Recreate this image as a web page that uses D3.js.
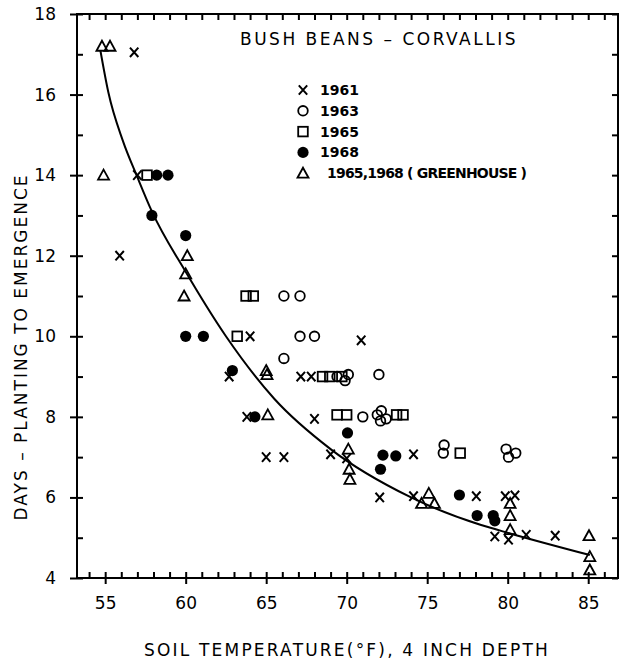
<!DOCTYPE html>
<html>
<head>
<meta charset="utf-8">
<script src="https://cdn.jsdelivr.net/npm/d3@7"></script>
<style>
  body { margin: 0; background: #fff; }
  text { font-family: "DejaVu Sans", sans-serif; fill: #000; }
</style>
</head>
<body>
<div id="graph"></div>
<script>
const xTicks = [55, 60, 65, 70, 75, 80, 85];
const yTicks = [4, 6, 8, 10, 12, 14, 16, 18];

// [soil temp F, days]
const s1961 = [[56.8,17.05],[57.0,14.0],[55.9,12.0],[64.0,10.0],[62.7,9.0],[63.8,8.0],[65.0,7.0],[66.1,7.0],
  [70.9,9.9],[67.15,9.0],[67.8,9.0],[68.0,7.95],[69.0,7.07],[70.0,6.97],[74.15,7.07],[72.05,6.0],[74.15,6.03],
  [78.05,6.03],[79.85,6.03],[80.45,6.05],[79.2,5.03],[80.05,4.95],[81.15,5.07],[82.95,5.05]];
const s1963 = [[66.1,11.0],[67.1,11.0],[67.1,10.0],[68.0,10.0],[66.1,9.45],[69.4,9.0],[70.1,9.05],[69.9,8.9],
  [72.0,9.05],[71.0,8.0],[71.9,8.05],[72.15,8.15],[72.1,7.9],[72.45,7.95],[76.05,7.3],[76.0,7.1],
  [79.9,7.2],[80.05,7.0],[80.5,7.1]];
const s1965 = [[57.6,14.0],[63.75,11.0],[64.2,11.0],[63.2,10.0],[68.5,9.0],[68.95,9.0],[69.7,9.0],
  [69.4,8.05],[70.0,8.05],[73.1,8.05],[73.5,8.05],[77.05,7.1]];
const s1968 = [[58.2,14.0],[58.9,14.0],[57.9,13.0],[60.0,12.5],[60.0,10.0],[61.1,10.0],[62.9,9.15],[64.3,8.0],
  [70.05,7.6],[72.25,7.05],[73.05,7.03],[72.1,6.7],[77.0,6.06],[78.1,5.55],[79.1,5.55],[79.2,5.42]];
const sGreen = [[54.8,17.2],[55.3,17.2],[54.9,14.0],[60.1,12.0],[60.0,11.55],[59.9,11.0],[65.0,9.15],[65.05,9.05],
  [65.1,8.05],[70.1,7.2],[70.15,6.7],[70.2,6.45],[74.65,5.85],[75.1,6.1],[75.45,5.85],[80.15,5.85],
  [80.15,5.55],[80.15,5.2],[85.05,5.05],[85.1,4.53],[85.1,4.2]];

// fitted curve
const curveX = [54.7, 55.2, 56.1, 57.0, 57.9, 60.0, 62.5, 65.5, 69.0, 74.0, 78.3, 80.2, 85.1];
const curveY = [17.1, 16.05, 14.85, 13.95, 13.1, 11.6, 10.0, 8.45, 7.2, 6.0, 5.32, 5.1, 4.57];

const legendNames = ["1961", "1963", "1965", "1968", "1965,1968 ( GREENHOUSE )"];
const legendSymbols = ["x", "o", "s", "f", "t"];

const W = 620, H = 663;
const margin = { top: 14, right: 2, bottom: 85, left: 77 };
const width = W - margin.left - margin.right;
const height = H - margin.top - margin.bottom;

const svg = d3.select("#graph")
  .append("svg")
    .attr("width", W)
    .attr("height", H)
  .append("g")
    .attr("transform", "translate(" + margin.left + "," + margin.top + ")");

const x = d3.scaleLinear().domain([53.25, 86.85]).range([0, width]);
const y = d3.scaleLinear().domain([4, 18]).range([height, 0]);

const xMinor = d3.range(54, 87);
const yMinor = d3.range(4, 19);

function styleAxis(g) {
  g.select(".domain").remove();
  g.selectAll("line").attr("stroke", "#000").attr("stroke-width", 2);
  g.selectAll("text").style("font-size", "17px").attr("fill", "#000");
}

// bottom: inward minor ticks, majors crossing
svg.append("g").attr("transform", "translate(0," + height + ")")
  .call(d3.axisBottom(x).tickValues(xMinor).tickSize(-6).tickFormat(""))
  .call(styleAxis);
svg.append("g").attr("transform", "translate(0," + height + ")")
  .call(d3.axisBottom(x).tickValues(xTicks).tickSize(6).tickPadding(13).tickFormat(d3.format("d")))
  .call(styleAxis);

// left
svg.append("g")
  .call(d3.axisLeft(y).tickValues(yMinor).tickSize(-6).tickFormat(""))
  .call(styleAxis);
svg.append("g")
  .call(d3.axisLeft(y).tickValues(yTicks).tickSize(7).tickPadding(14).tickFormat(d3.format("d")))
  .call(styleAxis);

// top and right, inward only
svg.append("g")
  .call(d3.axisTop(x).tickValues(xMinor).tickSize(-6).tickFormat(""))
  .call(styleAxis);
svg.append("g").attr("transform", "translate(" + width + ",0)")
  .call(d3.axisRight(y).tickValues(yMinor).tickSize(-6).tickFormat(""))
  .call(styleAxis);

// frame
svg.append("rect")
  .attr("x", x.range()[0]).attr("y", 0)
  .attr("width", x.range()[1] - x.range()[0])
  .attr("height", y.range()[0])
  .attr("fill", "none").attr("stroke", "#000").attr("stroke-width", 2);

// fitted curve
const line = d3.line()
  .x(function(d, i) { return x(curveX[i]); })
  .y(function(d, i) { return y(curveY[i]); })
  .curve(d3.curveMonotoneX);
svg.append("path")
  .datum(curveX)
  .attr("d", line)
  .attr("fill", "none")
  .attr("stroke", "#000")
  .attr("stroke-width", 2);

// symbols
function drawSymbol(g, kind) {
  if (kind === "x") {
    g.append("path").attr("d", "M-4.2,-4.7L4.2,4.7M4.2,-4.7L-4.2,4.7")
      .attr("stroke", "#000").attr("stroke-width", 2).attr("fill", "none");
  } else if (kind === "o") {
    g.append("circle").attr("r", 4.8)
      .attr("stroke", "#000").attr("stroke-width", 1.8).attr("fill", "none");
  } else if (kind === "s") {
    g.append("rect").attr("x", -4.8).attr("y", -4.8).attr("width", 9.6).attr("height", 9.6)
      .attr("stroke", "#000").attr("stroke-width", 1.8).attr("fill", "none");
  } else if (kind === "f") {
    g.append("circle").attr("r", 5.6).attr("fill", "#000");
  } else if (kind === "t") {
    g.append("path").attr("d", "M0,-5.5L5.5,4.5L-5.5,4.5Z")
      .attr("stroke", "#000").attr("stroke-width", 1.8).attr("fill", "none");
  }
}

function drawSeries(data, kind) {
  svg.selectAll(null)
    .data(data)
    .enter()
    .append("g")
      .attr("transform", function(d) { return "translate(" + x(d[0]) + "," + y(d[1]) + ")"; })
      .each(function() { drawSymbol(d3.select(this), kind); });
}

drawSeries(s1961, "x");
drawSeries(s1963, "o");
drawSeries(s1965, "s");
drawSeries(s1968, "f");
drawSeries(sGreen, "t");

// title
svg.append("text")
  .attr("x", 163).attr("y", 31)
  .style("font-size", "17px")
  .style("letter-spacing", "2.5px")
  .text("BUSH BEANS \u2013 CORVALLIS");

// legend
const legend = svg.append("g").attr("transform", "translate(226,76)");
legendNames.forEach(function(name, i) {
  const row = legend.append("g").attr("transform", "translate(0," + (i * 20.8) + ")");
  drawSymbol(row, legendSymbols[i]);
  row.append("text")
    .attr("x", i === 4 ? 24 : 17)
    .attr("y", 5)
    .style("font-size", "14px")
    .style("font-weight", "bold")
    .style("letter-spacing", i === 4 ? "-0.8px" : "0px")
    .text(name);
});

// axis labels
svg.append("text")
  .attr("text-anchor", "middle")
  .attr("transform", "translate(-50," + (height / 2 + 51) + ") rotate(-90)")
  .style("font-size", "17px")
  .style("letter-spacing", "2px")
  .text("DAYS \u2013 PLANTING TO EMERGENCE");

svg.append("text")
  .attr("text-anchor", "middle")
  .attr("x", 270).attr("y", height + 78)
  .style("font-size", "17px")
  .style("letter-spacing", "2.2px")
  .text("SOIL TEMPERATURE(\u00b0F), 4 INCH DEPTH");
</script>
</body>
</html>
